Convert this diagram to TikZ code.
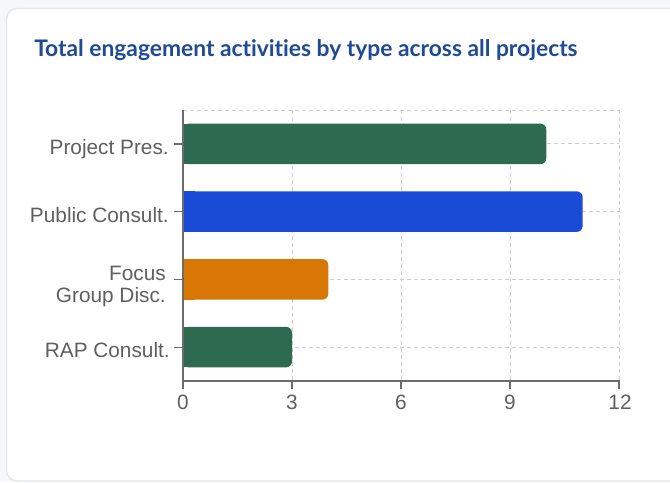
\documentclass[tikz,border=0pt]{standalone}
\usepackage{fontspec}
\setmainfont{Liberation Sans}
\newfontfamily\titlefont[Ligatures=NoCommon]{Lato}
\usetikzlibrary{calc}

\definecolor{pagebg}{HTML}{F5F7FA}
\definecolor{cardline}{HTML}{E1E6EE}
\definecolor{titleblue}{HTML}{1F4A96}
\definecolor{labelgray}{HTML}{5F5F5F}
\definecolor{axisgray}{HTML}{6B6B6B}
\definecolor{gridgray}{HTML}{CFCFCF}
\definecolor{bargreen}{HTML}{2D6A4F}
\definecolor{barblue}{HTML}{1A4BD6}
\definecolor{barorange}{HTML}{D97706}

\begin{document}
\begin{tikzpicture}[x=0.75pt, y=-0.75pt]

            \tikzstyle{gridline} = [gridgray, line width=0.75pt, dash pattern=on 3pt off 2.25pt];
            \tikzstyle{axisline} = [axisgray, line width=0.9pt];
            \tikzstyle{catlabel} = [anchor=base east, inner sep=0, text=labelgray, font=\fontsize{15.6}{15.8}\selectfont, align=right];
            \tikzstyle{ticklabel} = [anchor=base, inner sep=0, text=labelgray, font=\fontsize{15.6}{18}\selectfont];
            \tikzstyle{bar} = [rounded corners=4.5pt];

            \useasboundingbox (0,0) rectangle (670,482);
            \clip (0,0) rectangle (670,482);
            \fill[pagebg] (0,0) rectangle (670,482);

            % card
            \draw[cardline, fill=white, line width=1pt, rounded corners=8pt] (6.5,8.5) rectangle (700,481);

            \node[anchor=base west, inner sep=0, text=titleblue, font=\titlefont\bfseries\fontsize{17.1}{20}\selectfont] (title) at (34,56) {Total engagement activities by type across all projects};

            % grid
            \draw[gridline] (183,110) -- (619,110);
            \draw[gridline] (183,143.9) -- (619,143.9);
            \draw[gridline] (183,211.6) -- (619,211.6);
            \draw[gridline] (183,279.4) -- (619,279.4);
            \draw[gridline] (183,347.1) -- (619,347.1);
            \draw[gridline] (292,110) -- (292,381);
            \draw[gridline] (401,110) -- (401,381);
            \draw[gridline] (510,110) -- (510,381);
            \draw[gridline] (619,110) -- (619,381);

            % bars
            \fill[bargreen, bar] (183,123.6) rectangle (546.3,164.2);
            \fill[bargreen] (183,123.6) rectangle (195,164.2);
            \fill[barblue, bar] (183,191.3) rectangle (582.7,231.9);
            \fill[barblue] (183,191.3) rectangle (195,231.9);
            \fill[barorange, bar] (183,259.1) rectangle (328.3,299.7);
            \fill[barorange] (183,259.1) rectangle (195,299.7);
            \fill[bargreen, bar] (183,326.8) rectangle (292,367.4);
            \fill[bargreen] (183,326.8) rectangle (195,367.4);

            % axes
            \draw[axisline] (183,110) -- (183,381.5);
            \draw[axisline] (182.5,381) -- (619.5,381);
            \draw[axisline] (174,143.9) -- (183,143.9);
            \draw[axisline] (174,211.6) -- (183,211.6);
            \draw[axisline] (174,279.4) -- (183,279.4);
            \draw[axisline] (174,347.1) -- (183,347.1);
            \draw[axisline] (183,381) -- (183,389);
            \draw[axisline] (292,381) -- (292,389);
            \draw[axisline] (401,381) -- (401,389);
            \draw[axisline] (510,381) -- (510,389);
            \draw[axisline] (619,381) -- (619,389);

            % category labels
            \node[catlabel] (pres) at (169,154) {Project Pres.};
            \node[catlabel] (public) at (169,222.5) {Public Consult.};
            \node[catlabel, anchor=east] (focus) at (166,286.5) {Focus\\Group Disc.};
            \node[catlabel] (rap) at (170,357.5) {RAP Consult.};

            % value labels
            \node[ticklabel] (t0) at (183,409) {0};
            \node[ticklabel] (t3) at (292,409) {3};
            \node[ticklabel] (t6) at (401,409) {6};
            \node[ticklabel] (t9) at (510,409) {9};
            \node[ticklabel] (t12) at (620,409) {12};

        \end{tikzpicture}
\end{document}
